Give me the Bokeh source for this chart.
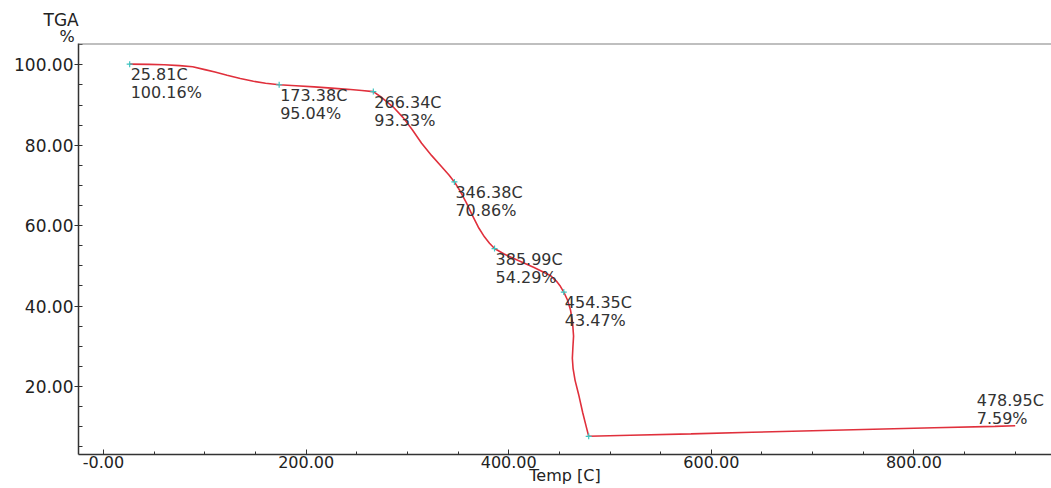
from bokeh.plotting import figure
from bokeh.models import ColumnDataSource, FixedTicker, Range1d, Span, Title
from bokeh.core.properties import value
from bokeh.embed import file_html
from bokeh.resources import INLINE

# TGA curve (temperature in C, mass in %)
temp = [25.81, 45, 60, 75, 88, 100, 110, 122, 135, 148, 160, 173.38, 190, 208, 225,
        241, 255, 266.34, 275, 286, 296, 305, 314, 324, 334, 341, 346.38, 352, 358,
        364, 370, 376, 381, 385.99, 395, 405, 415, 425, 433, 441, 447, 451, 454.35,
        458, 461, 463, 464, 463.3, 462.8, 463.5, 465.5, 469, 473, 476.5, 478.95,
        520, 580, 640, 700, 760, 820, 880, 900]
mass = [100.16, 100.1, 100.0, 99.8, 99.5, 98.8, 98.2, 97.4, 96.6, 95.9, 95.4, 95.04, 94.8, 94.5, 94.2,
        93.9, 93.6, 93.33, 91.8, 89.5, 86.8, 83.8, 80.5, 77.4, 74.6, 72.6, 70.86, 68.6, 65.8,
        62.6, 59.6, 57.2, 55.6, 54.29, 53.0, 51.8, 50.7, 49.6, 48.6, 47.6, 46.2, 44.9, 43.47,
        41.5, 39.0, 36.0, 32.5, 29.5, 27.0, 24.5, 21.5, 18.0, 13.5, 10.0, 7.59,
        7.85, 8.2, 8.6, 8.95, 9.35, 9.7, 10.05, 10.2]

# Marked points
pt_temp = [25.81, 173.38, 266.34, 346.38, 385.99, 454.35, 478.95]
pt_mass = [100.16, 95.04, 93.33, 70.86, 54.29, 43.47, 7.59]
# Where each point's annotation is anchored (last one is placed at the right end)
label_temp = [25.81, 173.38, 266.34, 346.38, 385.99, 454.35, 861.0]
label_mass = [100.16, 95.04, 93.33, 70.86, 54.29, 43.47, 19.0]

# Ticks
x_major = [0, 200, 400, 600, 800]
x_labels = ["-0.00", "200.00", "400.00", "600.00", "800.00"]
y_major = [20, 40, 60, 80, 100]
y_labels = ["20.00", "40.00", "60.00", "80.00", "100.00"]
x_minor = [v for v in range(50, 901, 50) if v not in x_major]
y_minor = [v for v in range(5, 106, 5) if v not in y_major]

FONT = "DejaVu Sans"
TXT = "#222222"

p = figure(width=1051, height=488,
           x_range=Range1d(-24.7, 935.8), y_range=Range1d(3.06, 105.3),
           output_backend="svg", toolbar_location=None,
           min_border_left=78, min_border_right=0, min_border_top=43, min_border_bottom=34)
p.grid.visible = False
p.outline_line_color = None
p.background_fill_color = "white"
p.border_fill_color = "white"

# y axis title at the top-left, as two stacked titles
p.add_layout(Title(text="%", align="left", offset=-19, text_font=FONT, text_font_size="16px",
                   text_font_style="normal", text_color=TXT, standoff=-4), "above")
p.add_layout(Title(text="TGA", align="left", offset=-35, text_font=FONT, text_font_size="17px",
                   text_font_style="normal", text_color=TXT, standoff=-6), "above")

# x axis
xa = p.xaxis[0]
xa.ticker = FixedTicker(ticks=x_major, minor_ticks=x_minor)
xa.major_label_overrides = {k: v for k, v in zip(x_major, x_labels)}
xa.axis_line_color = "#333333"
xa.axis_line_width = 1.5
xa.major_tick_line_color = "#333333"
xa.major_tick_in = 5
xa.major_tick_out = 0
xa.minor_tick_line_color = "#333333"
xa.minor_tick_in = 3
xa.minor_tick_out = 0
xa.major_label_text_font = FONT
xa.major_label_text_font_size = "16px"
xa.major_label_text_color = TXT
xa.major_label_standoff = 1
xa.axis_label = "Temp [C]"
xa.axis_label_text_font = FONT
xa.axis_label_text_font_size = "16px"
xa.axis_label_text_font_style = "normal"
xa.axis_label_text_color = TXT
xa.axis_label_standoff = -5

# y axis
ya = p.yaxis[0]
ya.ticker = FixedTicker(ticks=y_major, minor_ticks=y_minor)
ya.major_label_overrides = {k: v for k, v in zip(y_major, y_labels)}
ya.axis_line_color = "#333333"
ya.axis_line_width = 1.5
ya.major_tick_line_color = "#333333"
ya.major_tick_in = 4
ya.major_tick_out = 4
ya.minor_tick_line_color = "#333333"
ya.minor_tick_in = 4
ya.minor_tick_out = 0
ya.major_label_text_font = FONT
ya.major_label_text_font_size = "17px"
ya.major_label_text_color = TXT
ya.major_label_standoff = 1

# top frame line
p.add_layout(Span(location=105.3, dimension="width", line_color="#808080", line_width=2))

# curve
p.line(temp, mass, line_color="#e0303c", line_width=1.6)

# markers
p.scatter(pt_temp, pt_mass, marker="cross", size=6, line_color="#3fc4c0", line_width=1.2)

# annotations
texts = [f"{t:.2f}C\n{m:.2f}%" for t, m in zip(pt_temp, pt_mass)]
src = ColumnDataSource(dict(x=label_temp, y=label_mass, txt=texts))
p.text(x="x", y="y", text="txt", source=src, text_font=value(FONT), text_font_size="16px",
       text_color="#333333", text_align="left", text_baseline="top",
       x_offset=1, y_offset=1, text_line_height=0.95)

open("out.html", "w").write(file_html(p, INLINE))
